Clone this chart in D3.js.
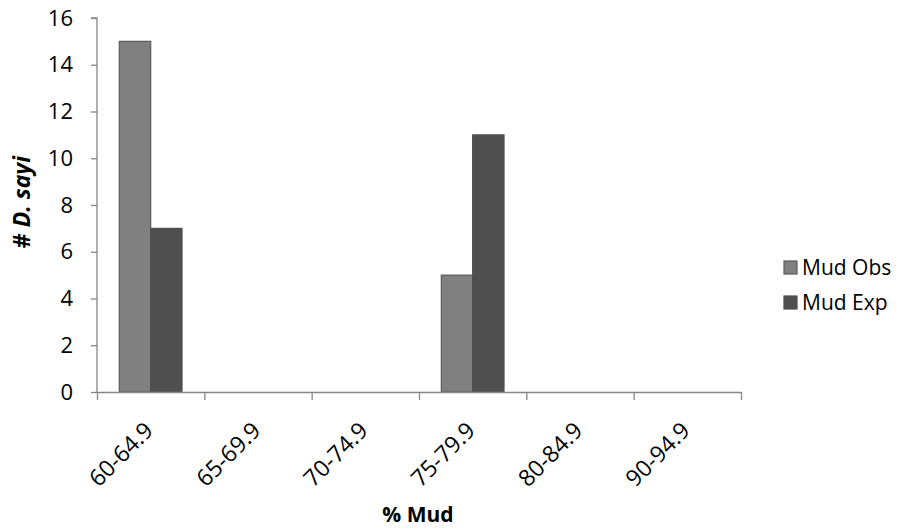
<!DOCTYPE html>
<html>
<head>
<meta charset="utf-8">
<script src="https://cdn.jsdelivr.net/npm/d3@7"></script>
<style>
  body { margin: 0; background: #fff; }
  svg { display: block; font-family: "Open Sans", sans-serif; }
</style>
</head>
<body>
<svg id="chart" width="909" height="531"></svg>
<script>
// data
const categories = ["60-64.9", "65-69.9", "70-74.9", "75-79.9", "80-84.9", "90-94.9"];
const seriesNames = ["Mud Obs", "Mud Exp"];
const mudObs = [15, 0, 0, 5, 0, 0];
const mudExp = [7, 0, 0, 11, 0, 0];
const yTicks = [0, 2, 4, 6, 8, 10, 12, 14, 16];

const fills = { "Mud Obs": "#808080", "Mud Exp": "#4f4f4f" };
const strokes = { "Mud Obs": "#5a5a5a", "Mud Exp": "#4f4f4f" };

const svg = d3.select("#chart");
const margin = { top: 18, left: 97 },
  width = 644,
  height = 374;

const g = svg.append("g").attr("transform", "translate(" + margin.left + "," + margin.top + ")");

const rows = categories.map((c, i) => ({ cat: c, "Mud Obs": mudObs[i], "Mud Exp": mudExp[i] }));

const x0 = d3.scaleBand().domain(categories).range([0, width]).padding(0);
const x1 = d3.scaleBand().domain(seriesNames)
  .range([x0.bandwidth() * 0.208, x0.bandwidth() * 0.792]);
const xTicksScale = d3.scaleLinear().domain([0, categories.length]).range([0, width]);
const y = d3.scaleLinear().domain([0, 16]).range([height, 0]);

// bars
g.append("g")
  .selectAll("g")
  .data(rows)
  .enter().append("g")
  .attr("transform", d => "translate(" + x0(d.cat) + ",0)")
  .selectAll("rect")
  .data(d => seriesNames.map(k => ({ key: k, value: d[k] })))
  .enter().append("rect")
  .attr("x", d => x1(d.key))
  .attr("y", d => y(d.value))
  .attr("width", x1.bandwidth())
  .attr("height", d => height - y(d.value))
  .attr("fill", d => fills[d.key])
  .attr("stroke", d => d.value > 0 ? strokes[d.key] : "none")
  .attr("stroke-width", 1.2);

// y axis
const yAxis = g.append("g")
  .call(d3.axisLeft(y).tickValues(yTicks).tickSize(6).tickPadding(18).tickFormat(d3.format("d")));
yAxis.select(".domain").attr("stroke", "#868686").attr("stroke-width", 1.3)
  .attr("d", "M-6," + y(16) + "H0V" + height);
yAxis.selectAll(".tick line").attr("stroke", "#868686").attr("stroke-width", 1.3);
yAxis.selectAll(".tick text").attr("fill", "#000").attr("font-size", 22)
  .attr("font-family", "'Open Sans', sans-serif");

// x axis (ticks between categories)
const xAxis = g.append("g")
  .attr("transform", "translate(0," + height + ")")
  .call(d3.axisBottom(xTicksScale).tickValues(d3.range(categories.length + 1)).tickSize(8).tickSizeOuter(0).tickFormat(""));
xAxis.select(".domain").attr("stroke", "#868686").attr("stroke-width", 1.3);
xAxis.selectAll(".tick line").attr("stroke", "#868686").attr("stroke-width", 1.3);

// rotated category labels
g.append("g")
  .selectAll("text")
  .data(categories)
  .enter().append("text")
  .attr("transform", d => "translate(" + (x0(d) + x0.bandwidth() / 2 + 4) + "," + (height + 40) + ") rotate(-45)")
  .attr("text-anchor", "end")
  .attr("font-size", 23)
  .attr("fill", "#000")
  .text(d => d);

// axis titles
svg.append("text")
  .attr("x", 418)
  .attr("y", 522)
  .attr("text-anchor", "middle")
  .attr("font-size", 21)
  .attr("font-weight", "bold")
  .text("% Mud");

const yTitle = svg.append("text")
  .attr("transform", "translate(30,202) rotate(-90)")
  .attr("text-anchor", "middle")
  .attr("font-size", 23)
  .attr("font-weight", "bold");
yTitle.append("tspan").text("# ");
yTitle.append("tspan").attr("font-style", "italic").text("D. sayi");

// legend
const legend = svg.append("g")
  .selectAll("g")
  .data(seriesNames)
  .enter().append("g")
  .attr("transform", (d, i) => "translate(784," + (268 + i * 35) + ")");

legend.append("rect")
  .attr("x", 0)
  .attr("y", -7)
  .attr("width", 13)
  .attr("height", 13)
  .attr("fill", d => fills[d])
  .attr("stroke", d => strokes[d])
  .attr("stroke-width", 1.2);

legend.append("text")
  .attr("x", 18)
  .attr("y", 0)
  .attr("dy", "0.35em")
  .attr("font-size", 21)
  .attr("fill", "#000")
  .text(d => d);
</script>
</body>
</html>
